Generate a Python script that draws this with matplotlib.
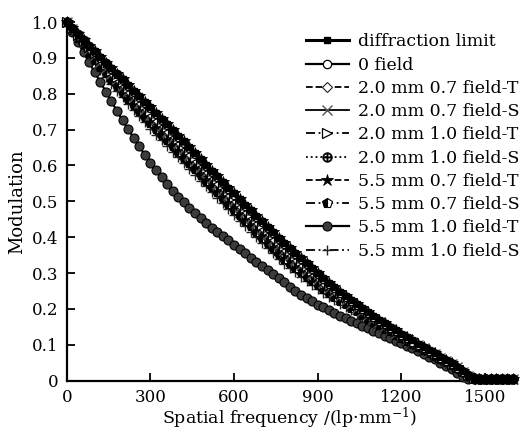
import matplotlib
matplotlib.use("Agg")
import matplotlib.pyplot as plt

# spatial frequency samples (lp/mm)
freq = list(range(0, 1601, 20))

diffraction_limit = [
    1.000, .984, .967, .951, .934, .918, .902, .887, .871, .856,
    .840, .824, .809, .793, .778, .762, .746, .730, .715, .699,
    .683, .667, .651, .634, .618, .602, .586, .570, .554, .538,
    .522, .506, .491, .475, .460, .444, .429, .414, .398, .383,
    .369, .355, .341, .327, .313, .299, .286, .273, .261, .248,
    .236, .225, .213, .202, .191, .180, .170, .160, .150, .140,
    .130, .121, .112, .103, .094, .085, .076, .067, .058, .048,
    .038, .026, .015, .008, .005, .004, .004, .004, .004, .004,
    .004]
field_0 = [
    1.000, .983, .966, .950, .933, .917, .901, .885, .869, .854,
    .838, .822, .806, .790, .775, .759, .743, .727, .712, .696,
    .680, .664, .648, .631, .615, .599, .583, .567, .551, .535,
    .519, .503, .488, .472, .457, .441, .426, .411, .395, .380,
    .366, .352, .338, .324, .310, .296, .283, .270, .258, .245,
    .233, .222, .210, .199, .188, .177, .167, .157, .147, .137,
    .127, .118, .109, .100, .091, .082, .073, .064, .055, .046,
    .036, .025, .015, .008, .005, .004, .004, .004, .004, .004,
    .004]
mm20_f07_T = [
    1.000, .982, .963, .946, .927, .910, .893, .877, .860, .844,
    .828, .811, .796, .779, .764, .747, .731, .715, .700, .684,
    .668, .652, .636, .619, .603, .587, .571, .555, .539, .523,
    .507, .491, .476, .460, .445, .429, .414, .399, .383, .369,
    .355, .342, .328, .315, .302, .288, .276, .263, .252, .240,
    .228, .218, .206, .196, .185, .175, .165, .155, .146, .136,
    .126, .117, .109, .100, .091, .082, .074, .065, .056, .046,
    .037, .025, .015, .008, .005, .004, .004, .004, .004, .004,
    .004]
mm20_f07_S = [
    1.000, .981, .962, .944, .925, .907, .890, .873, .856, .840,
    .823, .807, .791, .774, .758, .742, .726, .710, .694, .678,
    .662, .646, .630, .613, .597, .581, .565, .549, .533, .517,
    .501, .485, .470, .454, .439, .423, .408, .393, .377, .363,
    .349, .336, .322, .309, .296, .283, .271, .259, .248, .236,
    .225, .215, .203, .193, .182, .172, .163, .153, .144, .134,
    .124, .116, .107, .099, .090, .081, .073, .064, .055, .046,
    .037, .025, .014, .008, .005, .004, .004, .004, .004, .004,
    .004]
mm20_f10_T = [
    1.000, .983, .965, .948, .930, .913, .897, .881, .864, .848,
    .832, .816, .801, .785, .769, .753, .737, .721, .706, .690,
    .674, .658, .642, .625, .609, .593, .577, .561, .545, .529,
    .513, .497, .482, .466, .451, .435, .420, .405, .389, .375,
    .362, .348, .335, .321, .307, .294, .281, .268, .256, .244,
    .232, .222, .210, .199, .188, .178, .168, .158, .148, .138,
    .128, .119, .110, .102, .093, .084, .075, .066, .057, .047,
    .038, .026, .015, .008, .005, .004, .004, .004, .004, .004,
    .004]
mm20_f10_S = [
    1.000, .980, .960, .940, .920, .902, .884, .867, .849, .832,
    .815, .798, .782, .765, .749, .732, .716, .700, .685, .669,
    .653, .637, .621, .604, .588, .572, .556, .540, .524, .508,
    .492, .476, .461, .445, .430, .414, .399, .384, .368, .354,
    .342, .329, .316, .303, .290, .277, .266, .254, .243, .232,
    .221, .211, .200, .189, .179, .169, .160, .150, .141, .132,
    .122, .114, .105, .097, .088, .080, .071, .063, .054, .045,
    .036, .024, .014, .008, .005, .004, .004, .004, .004, .004,
    .004]
mm55_f07_T = [
    1.000, .984, .967, .951, .934, .918, .902, .887, .871, .856,
    .840, .824, .809, .793, .778, .762, .746, .730, .715, .699,
    .683, .667, .651, .634, .618, .602, .586, .570, .554, .538,
    .522, .506, .491, .475, .460, .444, .429, .414, .398, .383,
    .369, .355, .341, .327, .313, .299, .286, .273, .261, .248,
    .236, .225, .213, .202, .191, .180, .170, .160, .150, .140,
    .130, .121, .112, .103, .094, .085, .076, .067, .058, .048,
    .038, .026, .015, .008, .005, .004, .004, .004, .004, .004,
    .004]
mm55_f07_S = [
    1.000, .978, .956, .935, .914, .894, .875, .857, .838, .821,
    .803, .785, .769, .751, .735, .718, .701, .685, .670, .654,
    .638, .622, .606, .589, .573, .557, .541, .525, .509, .493,
    .477, .461, .446, .430, .415, .399, .384, .370, .354, .340,
    .328, .315, .303, .290, .278, .266, .255, .244, .234, .223,
    .213, .203, .193, .183, .173, .164, .154, .145, .137, .127,
    .118, .110, .102, .093, .085, .077, .069, .060, .052, .043,
    .034, .023, .014, .008, .005, .004, .004, .004, .004, .004,
    .004]
mm55_f10_T = [
    1.000, .972, .944, .916, .888, .860, .833, .806, .779, .752,
    .726, .701, .677, .653, .630, .608, .587, .567, .548, .530,
    .513, .497, .482, .467, .453, .440, .427, .415, .403, .391,
    .379, .367, .355, .343, .331, .319, .308, .297, .286, .274,
    .262, .251, .240, .230, .221, .212, .204, .196, .188, .181,
    .174, .167, .160, .153, .146, .139, .132, .125, .118, .111,
    .104, .097, .090, .083, .075, .067, .059, .050, .041, .031,
    .020, .009, .004, .004, .004, .004, .004, .004, .004, .004,
    .004]
mm55_f10_S = [
    1.000, .976, .952, .930, .907, .886, .866, .847, .827, .809,
    .790, .772, .755, .737, .720, .703, .686, .670, .655, .639,
    .623, .607, .591, .574, .558, .542, .526, .510, .494, .478,
    .462, .446, .431, .415, .400, .384, .369, .355, .339, .325,
    .314, .302, .290, .278, .267, .255, .245, .234, .225, .215,
    .205, .196, .186, .176, .167, .158, .149, .140, .132, .123,
    .114, .106, .098, .090, .082, .074, .066, .058, .050, .041,
    .033, .022, .013, .008, .005, .004, .004, .004, .004, .004,
    .004]

labels = ["diffraction limit", "0 field",
          "2.0 mm 0.7 field-T", "2.0 mm 0.7 field-S",
          "2.0 mm 1.0 field-T", "2.0 mm 1.0 field-S",
          "5.5 mm 0.7 field-T", "5.5 mm 0.7 field-S",
          "5.5 mm 1.0 field-T", "5.5 mm 1.0 field-S"]
series = [diffraction_limit, field_0, mm20_f07_T, mm20_f07_S,
          mm20_f10_T, mm20_f10_S, mm55_f07_T, mm55_f07_S,
          mm55_f10_T, mm55_f10_S]

xticks = [0, 300, 600, 900, 1200, 1500]
yticks = [0, 0.1, 0.2, 0.3, 0.4, 0.5, 0.6, 0.7, 0.8, 0.9, 1.0]
ytick_labels = ["0", "0.1", "0.2", "0.3", "0.4", "0.5", "0.6", "0.7", "0.8", "0.9", "1.0"]

plt.rcParams['font.family'] = ['DejaVu Serif']
plt.rcParams['mathtext.fontset'] = 'dejavuserif'

dashdotdot = (0, (5, 2, 1, 2, 1, 2))
styles = [
    dict(ls='-', lw=2.2, marker='s', ms=5, mfc='black', mec='black'),
    dict(ls='-', lw=1.6, marker='o', ms=6, mfc='white', mec='black', mew=0.9),
    dict(ls='--', lw=1.3, marker='D', ms=5, mfc='white', mec='#222222', mew=0.8),
    dict(ls='-', lw=1.3, marker='x', ms=7, mfc='none', mec='#555555', mew=1.0),
    dict(ls=(0, (5, 2, 1, 2)), lw=1.3, marker='>', ms=6.5, mfc='white', mec='black', mew=0.9),
    dict(ls=':', lw=1.3, marker='$\\oplus$', ms=7, mfc='black', mec='black', mew=0.4),
    dict(ls='--', lw=1.3, marker='*', ms=9, mfc='black', mec='black', mew=0.6),
    dict(ls=(0, (5, 2, 1, 2)), lw=1.3, marker='p', ms=7, fillstyle='left', mfc='black',
         mec='black', mfcalt='white', mew=0.8),
    dict(ls='-', lw=1.6, marker='o', ms=6.5, mfc='#3c3c3c', mec='black', mew=0.8),
    dict(ls=dashdotdot, lw=1.3, marker='+', ms=7, mec='#222222', mew=1.0),
]

fig = plt.figure(figsize=(5.26, 4.33), dpi=100)
ax = fig.add_axes([0.127, 0.121, 0.848, 0.828])

order = [8, 9, 7, 5, 3, 2, 4, 1, 0, 6]
lines = {}
for i in order:
    ln, = ax.plot(freq, series[i], color='black', label=labels[i], clip_on=False,
                  zorder=3 + order.index(i), **styles[i])
    lines[i] = ln

ax.set_xlim(0, 1600)
ax.set_ylim(0, 1.0)
ax.set_xticks(xticks)
ax.set_xticklabels([str(t) for t in xticks])
ax.set_yticks(yticks)
ax.set_yticklabels(ytick_labels)
ax.tick_params(direction='in', length=6, width=1.3, labelsize=12, pad=6, colors='black')
for s in ['top', 'right']:
    ax.spines[s].set_visible(False)
for s in ['left', 'bottom']:
    ax.spines[s].set_linewidth(1.6)

ax.set_xlabel("Spatial frequency /(lp\u00b7mm$^{-1}$)", fontsize=12.5, labelpad=0)
ax.set_ylabel("Modulation", fontsize=13, labelpad=4)

handles = [lines[i] for i in range(10)]
leg = ax.legend(handles, labels, loc='upper right', bbox_to_anchor=(1.04, 1.0),
                frameon=False, fontsize=12.5, handlelength=2.5, handletextpad=0.5,
                labelspacing=0.36, borderpad=0.15)

fig.savefig("out.png", dpi=100)
